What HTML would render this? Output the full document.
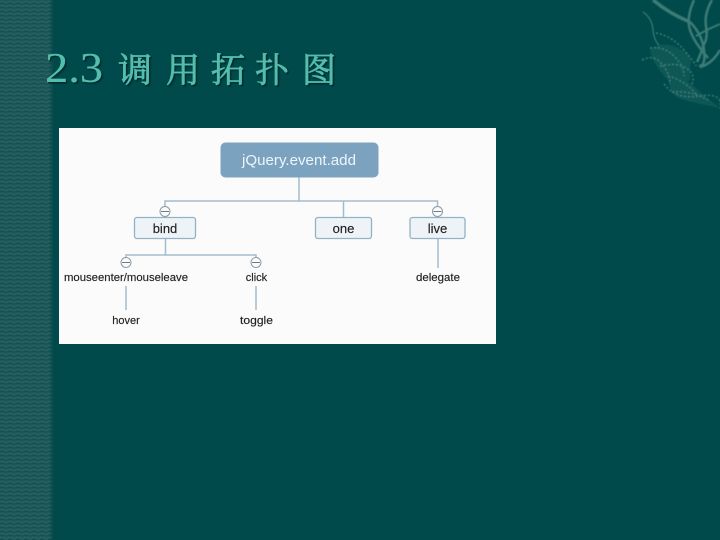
<!DOCTYPE html>
<html>
<head>
<meta charset="utf-8">
<style>
html,body{margin:0;padding:0;background:#004a4c;width:720px;height:540px;overflow:hidden}
svg{display:block;position:absolute;left:0;top:0}
.t{font-family:"Liberation Sans","Noto Sans CJK SC",sans-serif;fill:#222;text-anchor:middle;stroke:#222;stroke-width:.15}
.h{font-family:"Liberation Serif","Noto Serif CJK SC",serif;fill:#55bdab;stroke:#55bdab;stroke-width:.7;text-anchor:middle;filter:url(#sh)}
</style>
</head>
<body>
<svg width="720" height="540" viewBox="0 0 720 540" xmlns="http://www.w3.org/2000/svg">
<defs>
<pattern id="sc" width="8" height="4" patternUnits="userSpaceOnUse">
<rect width="8" height="4" fill="#1d5757"/>
<path d="M0 2 Q2 .4 4 2 T8 2" fill="none" stroke="#2f6a69" stroke-width=".7"/>
<path d="M0 3.7 Q2 2.6 4 3.700 T8 3.700" fill="none" stroke="#124e50" stroke-width=".7"/>
</pattern>
<linearGradient id="fade" x1="0" x2="1" y1="0" y2="0">
<stop offset="0" stop-color="#004a4c" stop-opacity="0"/>
<stop offset="1" stop-color="#004a4c" stop-opacity="1"/>
</linearGradient>
<filter id="sh" x="-10%" y="-10%" width="125%" height="130%">
<feDropShadow dx="1.6" dy="1.6" stdDeviation=".5" flood-color="#002c2e" flood-opacity=".95"/>
</filter>
<filter id="bl"><feGaussianBlur stdDeviation=".5"/></filter>
</defs>
<rect width="720" height="540" fill="#004a4c"/>
<rect width="53" height="540" fill="url(#sc)"/>
<rect x="49" width="5" height="540" fill="url(#fade)"/>

<!-- ornament, top right -->
<g fill="none" stroke="#3d7c76" filter="url(#bl)">
<path d="M653 0Q670 14 690 22" stroke-width="3.500"/>
<path d="M690 22Q702 34 704 50T699 66" stroke-width="2.500"/>
<path d="M694 0Q686 18 690 30T708 58" stroke-width="2.500"/>
<path d="M712 0Q704 14 706 26T704 44Q700 56 697 62" stroke-width="2.500"/>
<path d="M720 24Q706 30 696 36" stroke-width="2"/>
<path d="M720 50Q712 64 700 67" stroke-width="2.500"/>
<path d="M643 12Q652 18 653 30T662 48" stroke-width="1.200"/>
<path d="M650 50Q662 40 678 48T690 66L690 80Q676 90 664 76T650 50Z" fill="#105857" stroke="none"/>
<path d="M668 74Q684 76 700 92L720 108Q700 104 684 100T668 74Z" fill="#105857" stroke="none"/>
<g stroke-dasharray="2 2" stroke-width="1.500">
<path d="M656 33Q672 36 684 50T696 66"/>
<path d="M650 48Q664 46 674 56T684 76"/>
<path d="M642 60Q654 54 662 64T670 84"/>
<path d="M660 66Q676 62 686 68T692 84"/>
<path d="M664 84Q676 100 700 96T720 110"/>
<path d="M668 76Q684 80 696 94"/>
<path d="M672 92Q690 90 708 100"/>
</g>
</g>

<!-- title -->
<text class="h" x="74" y="82" font-size="42" textLength="58" lengthAdjust="spacingAndGlyphs" style="stroke-width:.1">2.3</text>
<text class="h" x="135" y="82" font-size="34">调</text>
<text class="h" x="183" y="82" font-size="34">用</text>
<text class="h" x="228" y="82" font-size="34">拓</text>
<text class="h" x="272" y="82" font-size="34">扑</text>
<text class="h" x="319" y="82" font-size="34">图</text>

<!-- diagram card -->
<rect x="59" y="128" width="437" height="216" fill="#fbfbfb"/>
<g fill="none" stroke="#a3bccb" stroke-width="1.500">
<path d="M299 177V201M165 217V201H437.500V206M343.500 201V217"/>
<path d="M165.500 239V255M126 258V255H256V258"/>
<path d="M126 286V310M256 286V310M438 239V268"/>
</g>
<rect x="220.500" y="142.500" width="158" height="35" rx="5" fill="#7ba3c0"/>
<text class="t" x="299" y="165" font-size="14.500" style="fill:#eef5f9;stroke:none" textLength="114" lengthAdjust="spacingAndGlyphs">jQuery.event.add</text>

<g fill="#edf3f7" stroke="#93b2c4" stroke-width="1.300">
<rect x="134.500" y="217.500" width="61" height="21" rx="2.500"/>
<rect x="315.500" y="217.500" width="56" height="21" rx="2.500"/>
<rect x="410" y="217.500" width="55" height="21" rx="2.500"/>
</g>
<text class="t" x="165" y="233" font-size="13">bind</text>
<text class="t" x="343.500" y="233" font-size="13">one</text>
<text class="t" x="437.500" y="233" font-size="13">live</text>

<g fill="#fbfbfb" stroke="#8a9ba5" stroke-width="1">
<circle cx="165" cy="211.500" r="5"/>
<circle cx="437.500" cy="211.500" r="5"/>
<circle cx="126" cy="262.500" r="5"/>
<circle cx="256" cy="262.500" r="5"/>
</g>
<path stroke="#707c84" d="M161 211.500H169M433.500 211.500H441.500M122 262.500H130M252 262.500H260"/>

<g font-size="11">
<text class="t" x="126" y="281" textLength="124" lengthAdjust="spacingAndGlyphs">mouseenter/mouseleave</text>
<text class="t" x="256.500" y="281">click</text>
<text class="t" x="438" y="281" textLength="44" lengthAdjust="spacingAndGlyphs">delegate</text>
<text class="t" x="126" y="324">hover</text>
<text class="t" x="256.500" y="324" textLength="33" lengthAdjust="spacingAndGlyphs">toggle</text>
</g>
</svg>
</body>
</html>
